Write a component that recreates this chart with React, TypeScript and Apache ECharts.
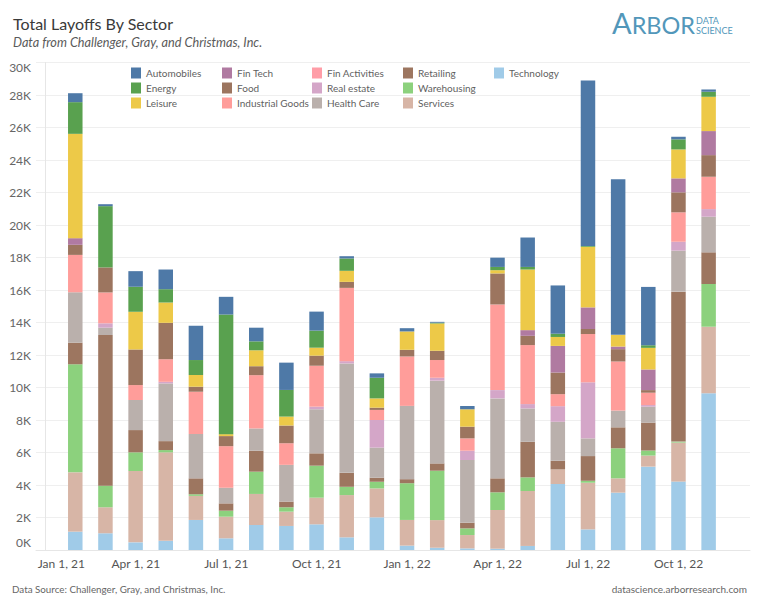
import React, { useEffect, useRef } from "react";
import * as echarts from "echarts";

// One bar per month (Feb 21 .. Nov 22); time axis index 0 = Jan 1, 21
const months = [
  "2021-02", "2021-03", "2021-04", "2021-05", "2021-06", "2021-07", "2021-08", "2021-09",
  "2021-10", "2021-11", "2021-12", "2022-01", "2022-02", "2022-03", "2022-04", "2022-05",
  "2022-06", "2022-07", "2022-08", "2022-09", "2022-10", "2022-11",
];

const tickMonths = ["2021-01", "2021-04", "2021-07", "2021-10", "2022-01", "2022-04", "2022-07", "2022-10"];
const tickLabels = ["Jan 1, 21", "Apr 1, 21", "Jul 1, 21", "Oct 1, 21", "Jan 1, 22", "Apr 1, 22", "Jul 1, 22", "Oct 1, 22"];

// Layoffs per sector (people)
const technology = [1130, 1030, 470, 570, 1850, 720, 1540, 1480, 1580, 780, 2010, 270, 140, 100, 80, 250, 4060, 1270, 3530, 5130, 4210, 9640];
const services = [3650, 1600, 4390, 5440, 1480, 1330, 1910, 880, 1640, 2600, 1780, 1580, 1700, 820, 2380, 3380, 900, 2870, 880, 680, 2400, 4100];
const warehousing = [6650, 1330, 1150, 140, 100, 370, 1370, 270, 1970, 510, 410, 2260, 3040, 410, 1090, 840, 0, 120, 1850, 310, 60, 2630];
const retailing = [1330, 9270, 1370, 550, 980, 450, 1290, 350, 760, 860, 250, 250, 450, 350, 860, 2190, 530, 1520, 1290, 1720, 9230, 1950];
const healthCare = [3100, 450, 1850, 3550, 2730, 960, 1370, 2260, 2710, 6730, 1850, 4510, 5090, 3860, 4920, 2050, 2400, 1090, 1030, 980, 2520, 2190];
const realEstate = [0, 270, 0, 100, 0, 0, 0, 0, 160, 140, 1700, 0, 180, 570, 510, 270, 960, 3450, 0, 100, 550, 470];
const finActivities = [0, 0, 0, 0, 0, 0, 0, 0, 0, 0, 0, 0, 0, 0, 0, 0, 0, 0, 0, 0, 0, 0];
const industrialGoods = [2300, 1900, 920, 1390, 2600, 2560, 3280, 1330, 2520, 4510, 620, 3040, 1090, 760, 5270, 3630, 740, 2970, 3020, 760, 1810, 1990];
const food = [620, 1540, 2190, 2240, 310, 620, 550, 1090, 620, 370, 140, 410, 570, 720, 1910, 570, 1330, 310, 760, 160, 1230, 1330];
const finTech = [410, 0, 0, 0, 0, 0, 0, 0, 0, 0, 0, 0, 0, 0, 0, 350, 1640, 1330, 160, 1270, 860, 1480];
const leisure = [6420, 0, 2320, 1250, 720, 120, 980, 550, 490, 680, 570, 1130, 1680, 1070, 200, 3730, 550, 3730, 720, 1330, 1780, 2110];
const energy = [1950, 3770, 1540, 820, 920, 7360, 550, 1640, 1050, 760, 1270, 0, 50, 0, 200, 160, 200, 50, 0, 160, 620, 310];
const automobiles = [550, 120, 960, 1210, 2110, 1090, 840, 1680, 1170, 140, 270, 200, 50, 200, 570, 1810, 2970, 10190, 9580, 3590, 160, 140];

// stacked bottom -> top
const sectors = [
  { name: "Technology", color: "#a0cbe8", values: technology },
  { name: "Services", color: "#d7b5a6", values: services },
  { name: "Warehousing", color: "#8cd17d", values: warehousing },
  { name: "Retailing", color: "#9d7660", values: retailing },
  { name: "Health Care", color: "#bab0ac", values: healthCare },
  { name: "Real estate", color: "#d4a6c8", values: realEstate },
  { name: "Fin Activities", color: "#ff9da7", values: finActivities },
  { name: "Industrial Goods", color: "#ff9d9a", values: industrialGoods },
  { name: "Food", color: "#9c755f", values: food },
  { name: "Fin Tech", color: "#b07aa1", values: finTech },
  { name: "Leisure", color: "#edc948", values: leisure },
  { name: "Energy", color: "#59a14f", values: energy },
  { name: "Automobiles", color: "#4e79a7", values: automobiles },
];

const legendColumns = [
  ["Automobiles", "Energy", "Leisure"],
  ["Fin Tech", "Food", "Industrial Goods"],
  ["Fin Activities", "Real estate", "Health Care"],
  ["Retailing", "Warehousing", "Services"],
  ["Technology"],
];
const legendLefts = [131, 222, 312, 403, 494];

const monthIndex = (m: string) => {
  const [y, mo] = m.split("-").map(Number);
  return (y - 2021) * 12 + (mo - 1);
};

const FONT = "Lato, 'Open Sans', sans-serif";
const LOGO = "#5297ba";

export default function App() {
  const ref = useRef<HTMLDivElement>(null);
  useEffect(() => {
    if (!ref.current) return;
    const chart = echarts.init(ref.current, undefined, { renderer: "svg" });
    const tickValues = tickMonths.map(monthIndex);
    const option: any = {
      animation: false,
      backgroundColor: "#ffffff",
      textStyle: { fontFamily: FONT },
      grid: [
        // bars: category slots aligned with the monthly time scale
        { left: 60.2, right: 34.3, top: 62.5, bottom: 56, containLabel: false },
        // visible axes
        { left: 36, right: 8, top: 62.5, bottom: 56, containLabel: false },
      ],
      legend: legendColumns.map((col, i) => ({
        data: col,
        orient: "vertical",
        left: legendLefts[i],
        top: 67.5,
        padding: 0,
        icon: "rect",
        itemWidth: 10,
        itemHeight: 11,
        itemGap: 4,
        selectedMode: false,
        textStyle: { fontFamily: FONT, fontSize: 10, color: "#5f5f5f", lineHeight: 11 },
      })),
      xAxis: [
        {
          gridIndex: 0,
          type: "category",
          data: months,
          show: false,
        },
        {
          gridIndex: 1,
          type: "value",
          min: -0.31,
          max: 23.37,
          axisLine: { show: true, lineStyle: { color: "#e6e6e6" } },
          axisTick: { show: false },
          splitLine: { show: false },
          axisLabel: {
            customValues: tickValues,
            margin: 7,
            fontSize: 12,
            color: "#555",
            fontFamily: FONT,
            formatter: (v: number) => {
              const idx = tickValues.indexOf(Math.round(v));
              if (idx < 0) return "";
              return idx === 0 ? `{first|${tickLabels[idx]}}` : tickLabels[idx];
            },
            rich: {
              first: { padding: [0, 0, 0, 32], fontSize: 12, color: "#555", fontFamily: FONT },
            },
          },
        },
      ],
      yAxis: [
        {
          gridIndex: 0,
          type: "value",
          min: 0,
          max: 30000,
          show: false,
          splitLine: { show: false },
        },
        {
          gridIndex: 1,
          type: "value",
          min: 0,
          max: 30000,
          interval: 2000,
          axisLine: { show: true, lineStyle: { color: "#e6e6e6" } },
          axisTick: { show: false },
          splitLine: { show: true, lineStyle: { color: "#efefef" } },
          axisLabel: {
            margin: 5,
            fontSize: 12,
            color: "#666",
            fontFamily: FONT,
            formatter: (v: number) => {
              const t = `${v / 1000}K`;
              if (v === 0) return `{b|${t}}`;
              if (v === 30000) return `{t|${t}}`;
              return t;
            },
            rich: {
              b: { padding: [0, 0, 16, 0], fontSize: 12, color: "#666", fontFamily: FONT },
              t: { padding: [9, 0, 0, 0], fontSize: 12, color: "#666", fontFamily: FONT },
            },
          },
        },
      ],
      series: sectors.map((s) => ({
        name: s.name,
        type: "bar",
        stack: "total",
        xAxisIndex: 0,
        yAxisIndex: 0,
        barWidth: 14.5,
        itemStyle: { color: s.color },
        emphasis: { disabled: true },
        data: s.values,
      })),
      graphic: [
        {
          type: "text",
          left: 13,
          top: 15,
          style: { text: "Total Layoffs By Sector", fontSize: 16, fill: "#3a3a3a", fontFamily: FONT },
        },
        {
          type: "text",
          left: 13,
          top: 35.5,
          style: {
            text: "Data from Challenger, Gray, and Christmas, Inc.",
            fontSize: 12.7,
            fontStyle: "italic",
            fill: "#5a5a5a",
            fontFamily: FONT,
          },
        },
        {
          type: "text",
          left: 612,
          top: 8,
          style: {
            text: "{a|A}{r|RBOR}",
            fill: LOGO,
            fontFamily: FONT,
            rich: {
              a: { fontSize: 29, lineHeight: 30, fill: LOGO, fontFamily: FONT, verticalAlign: "bottom" },
              r: { fontSize: 23.5, lineHeight: 30, fill: LOGO, fontFamily: FONT, verticalAlign: "bottom" },
            },
          },
        },
        {
          type: "text",
          left: 696,
          top: 16,
          style: { text: "DATA", fontSize: 9, fill: LOGO, fontFamily: FONT },
        },
        {
          type: "text",
          left: 696,
          top: 25.5,
          style: { text: "SCIENCE", fontSize: 9, fill: LOGO, fontFamily: FONT },
        },
        {
          type: "text",
          left: 12,
          top: 584,
          style: { text: "Data Source: Challenger, Gray, and Christmas, Inc.", fontSize: 9.8, fill: "#666", fontFamily: FONT },
        },
        {
          type: "text",
          right: 11,
          top: 583.5,
          style: { text: "datascience.arborresearch.com", fontSize: 10, fill: "#666", fontFamily: FONT },
        },
      ],
    };
    chart.setOption(option);
    return () => chart.dispose();
  }, []);
  return (
    <div
      ref={ref}
      style={{ position: "fixed", left: 0, top: 0, width: 758, height: 606, background: "#fff" }}
    />
  );
}
